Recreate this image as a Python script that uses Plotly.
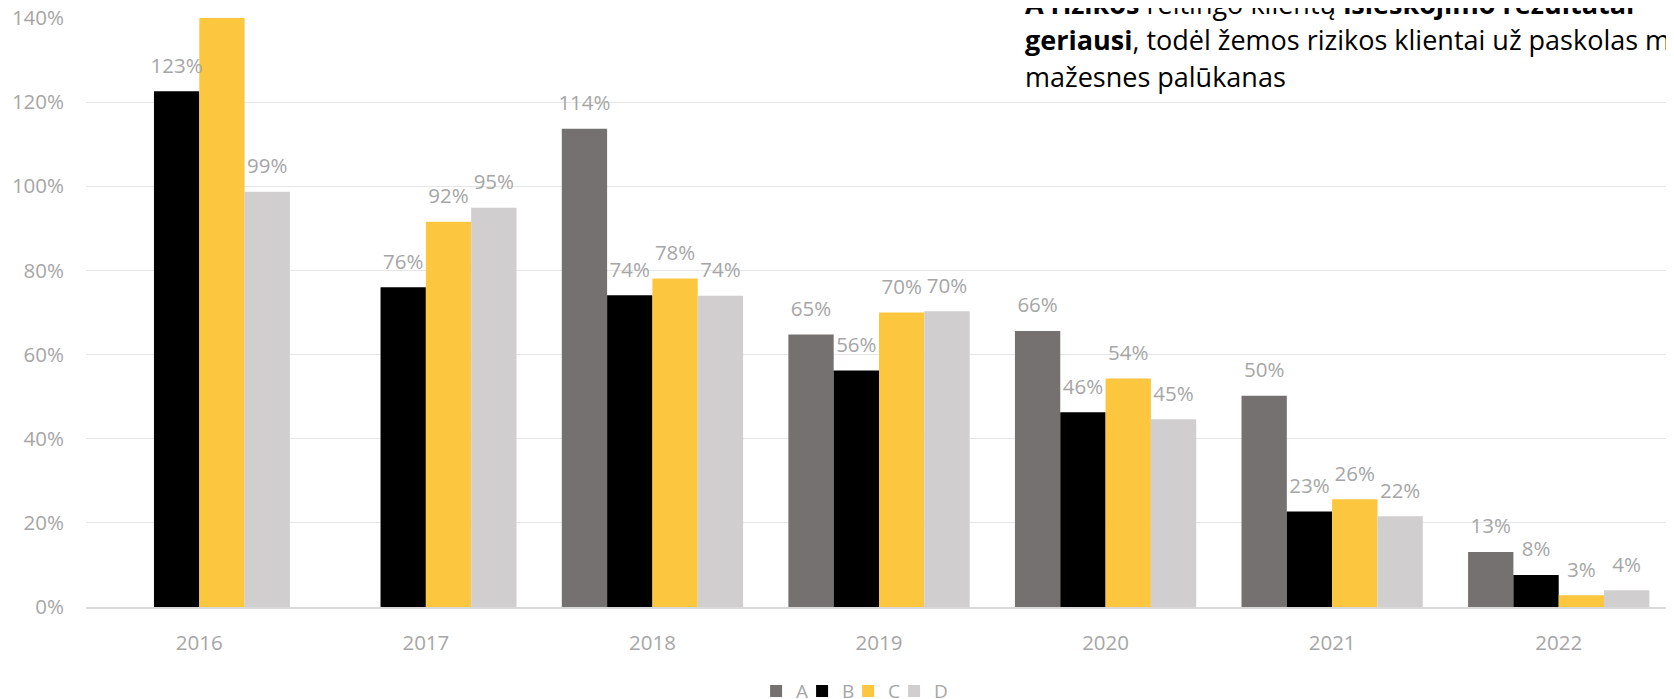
import plotly.graph_objects as go

years = ["2016", "2017", "2018", "2019", "2020", "2021", "2022"]
series_names = ["A", "B", "C", "D"]
a_vals = [None, None, 1.137, 0.648, 0.656, 0.502, 0.131]
b_vals = [1.226, 0.760, 0.741, 0.562, 0.463, 0.227, 0.076]
c_vals = [1.400, 0.916, 0.781, 0.700, 0.543, 0.256, 0.028]
d_vals = [0.987, 0.949, 0.740, 0.703, 0.446, 0.216, 0.040]
values = [a_vals, b_vals, c_vals, d_vals]
colors = ["#767171", "#000000", "#FCC63F", "#D0CECE"]
Y_MAX = 1.4

FONT = "Open Sans"
GRAY = "#A6A6A6"

# layout: one small legend box per series so the entries sit as in the reference
legend_ids = ["legend", "legend2", "legend3", "legend4"]
legend_x = [0.4225, 0.4515, 0.4805, 0.5095]

fig = go.Figure()
for name, vals, col, lid in zip(series_names, values, colors, legend_ids):
    fig.add_trace(go.Bar(
        x=years, y=vals, name=name, marker=dict(color=col, line=dict(width=0)),
        offsetgroup=name, hoverinfo="skip", legend=lid,
    ))
for name, vals in zip(series_names, values):
    labels = [("" if (v is None or v >= Y_MAX) else f"{v:.0%}") for v in vals]
    fig.add_trace(go.Scatter(
        x=years, y=vals, mode="markers+text", offsetgroup=name,
        marker=dict(size=20, color="rgba(0,0,0,0)"),
        text=labels, textposition="top center",
        textfont=dict(family=FONT, size=20.5, color=GRAY),
        showlegend=False, hoverinfo="skip", cliponaxis=True,
    ))

lines = [
    "<b>A rizikos</b> reitingo klientų <b>išieškojimo rezultatai</b>",
    "<b>geriausi</b>, todėl žemos rizikos klientai už paskolas moka",
    "mažesnes palūkanas",
]
line_y = [1.0246, 0.9635, 0.9015]
for t, yy in zip(lines, line_y):
    fig.add_annotation(
        text=t, xref="paper", yref="paper", x=0.5907, y=yy,
        xanchor="left", yanchor="middle", showarrow=False, align="left",
        font=dict(family=FONT, size=27, color="#000000"),
    )

legend_common = dict(
    orientation="h", xanchor="left", y=-0.143, yanchor="middle",
    font=dict(family=FONT, size=19, color=GRAY), itemwidth=30,
    bgcolor="rgba(0,0,0,0)",
)
legend_layout = {lid: dict(legend_common, x=lx) for lid, lx in zip(legend_ids, legend_x)}

fig.update_layout(
    width=1674, height=699,
    margin=dict(l=78, r=10, t=9.5, b=100.3, autoexpand=False),
    paper_bgcolor="white", plot_bgcolor="white",
    barmode="group", bargap=0.2, bargroupgap=0,
    scattermode="group", scattergap=0.2,
    font=dict(family=FONT, size=20.5, color=GRAY),
    xaxis=dict(
        showgrid=False, showline=True, linecolor="#D9D9D9", linewidth=1.5,
        ticks="", tickfont=dict(family=FONT, size=20.5, color=GRAY),
        ticklabelstandoff=17,
    ),
    yaxis=dict(
        range=[0, Y_MAX], dtick=0.2, tickformat=".0%", showgrid=True,
        gridcolor="#E6E6E6", gridwidth=1.2, zeroline=False, showline=False,
        ticks="", tickfont=dict(family=FONT, size=20.5, color=GRAY),
        ticklabelstandoff=21, ticklabeloverflow="allow",
    ),
    **legend_layout,
)

fig.write_html("out.html")
